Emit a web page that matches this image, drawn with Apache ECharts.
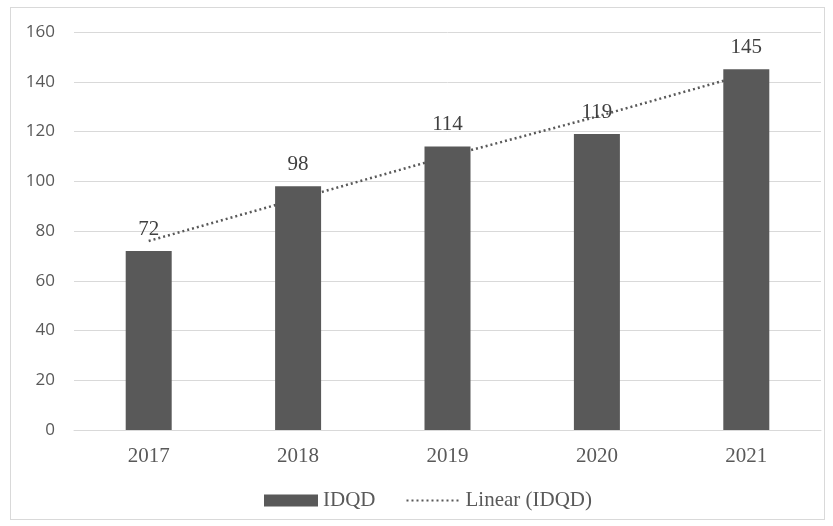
<!DOCTYPE html>
<html>
<head>
<meta charset="utf-8">
<script src="https://cdn.jsdelivr.net/npm/echarts@6/dist/echarts.min.js"></script>
<style>
  html, body { margin: 0; padding: 0; background: #fff; }
  #frame {
    position: absolute; left: 10px; top: 7px; width: 815px; height: 513px;
    border: 1px solid #d9d9d9; box-sizing: border-box;
  }
  #chart { position: absolute; left: 0; top: 0; width: 833px; height: 526px; }
</style>
</head>
<body>
<div id="frame"></div>
<div id="chart"></div>
<script>
// 数据
const years = ['2017', '2018', '2019', '2020', '2021']
const idqd = [72, 98, 114, 119, 145]
// 趋势线
const linearIdqd = [76, 93, 110, 126, 143]
const yTicks = [0, 20, 40, 60, 80, 100, 120, 140, 160]

const serif = '"Liberation Serif", "DejaVu Serif", serif'
const sans = '"Open Sans", "Noto Sans", sans-serif'

let myChart = echarts.init(document.getElementById('chart'))
myChart.setOption({
  animation: false,
  grid: {
    left: 74,
    right: 12,
    top: 32,
    bottom: 96
  },
  legend: {
    bottom: 10,
    left: 259,
    itemWidth: 54,
    itemHeight: 12,
    itemGap: 30,
    textStyle: {
      fontFamily: serif,
      fontSize: 21,
      color: '#595959'
    },
    data: [
      { name: 'IDQD', icon: 'rect' },
      { name: 'Linear (IDQD)', itemStyle: { opacity: 0 } }
    ]
  },
  xAxis: {
    type: 'category',
    data: years,
    axisTick: { show: false },
    axisLine: { lineStyle: { color: '#d9d9d9', width: 1 } },
    axisLabel: {
      margin: 16,
      fontFamily: serif,
      fontSize: 21,
      color: '#595959'
    }
  },
  yAxis: {
    type: 'value',
    min: yTicks[0],
    max: yTicks[yTicks.length - 1],
    interval: 20,
    axisLine: { show: false },
    axisTick: { show: false },
    axisLabel: {
      margin: 19,
      fontFamily: sans,
      fontSize: 17,
      color: '#595959'
    },
    splitLine: { lineStyle: { color: '#d9d9d9', width: 1 } }
  },
  series: [
    {
      name: 'IDQD',
      type: 'bar',
      data: idqd,
      barWidth: 46,
      itemStyle: { color: '#595959' },
      label: {
        show: true,
        position: 'top',
        distance: 11,
        fontFamily: serif,
        fontSize: 21,
        color: '#404040'
      }
    },
    {
      name: 'Linear (IDQD)',
      type: 'line',
      data: linearIdqd,
      symbol: 'none',
      z: 1,
      itemStyle: { color: '#595959' },
      lineStyle: { color: '#595959', width: 2.5, type: [2, 3] }
    }
  ]
})
</script>
</body>
</html>
